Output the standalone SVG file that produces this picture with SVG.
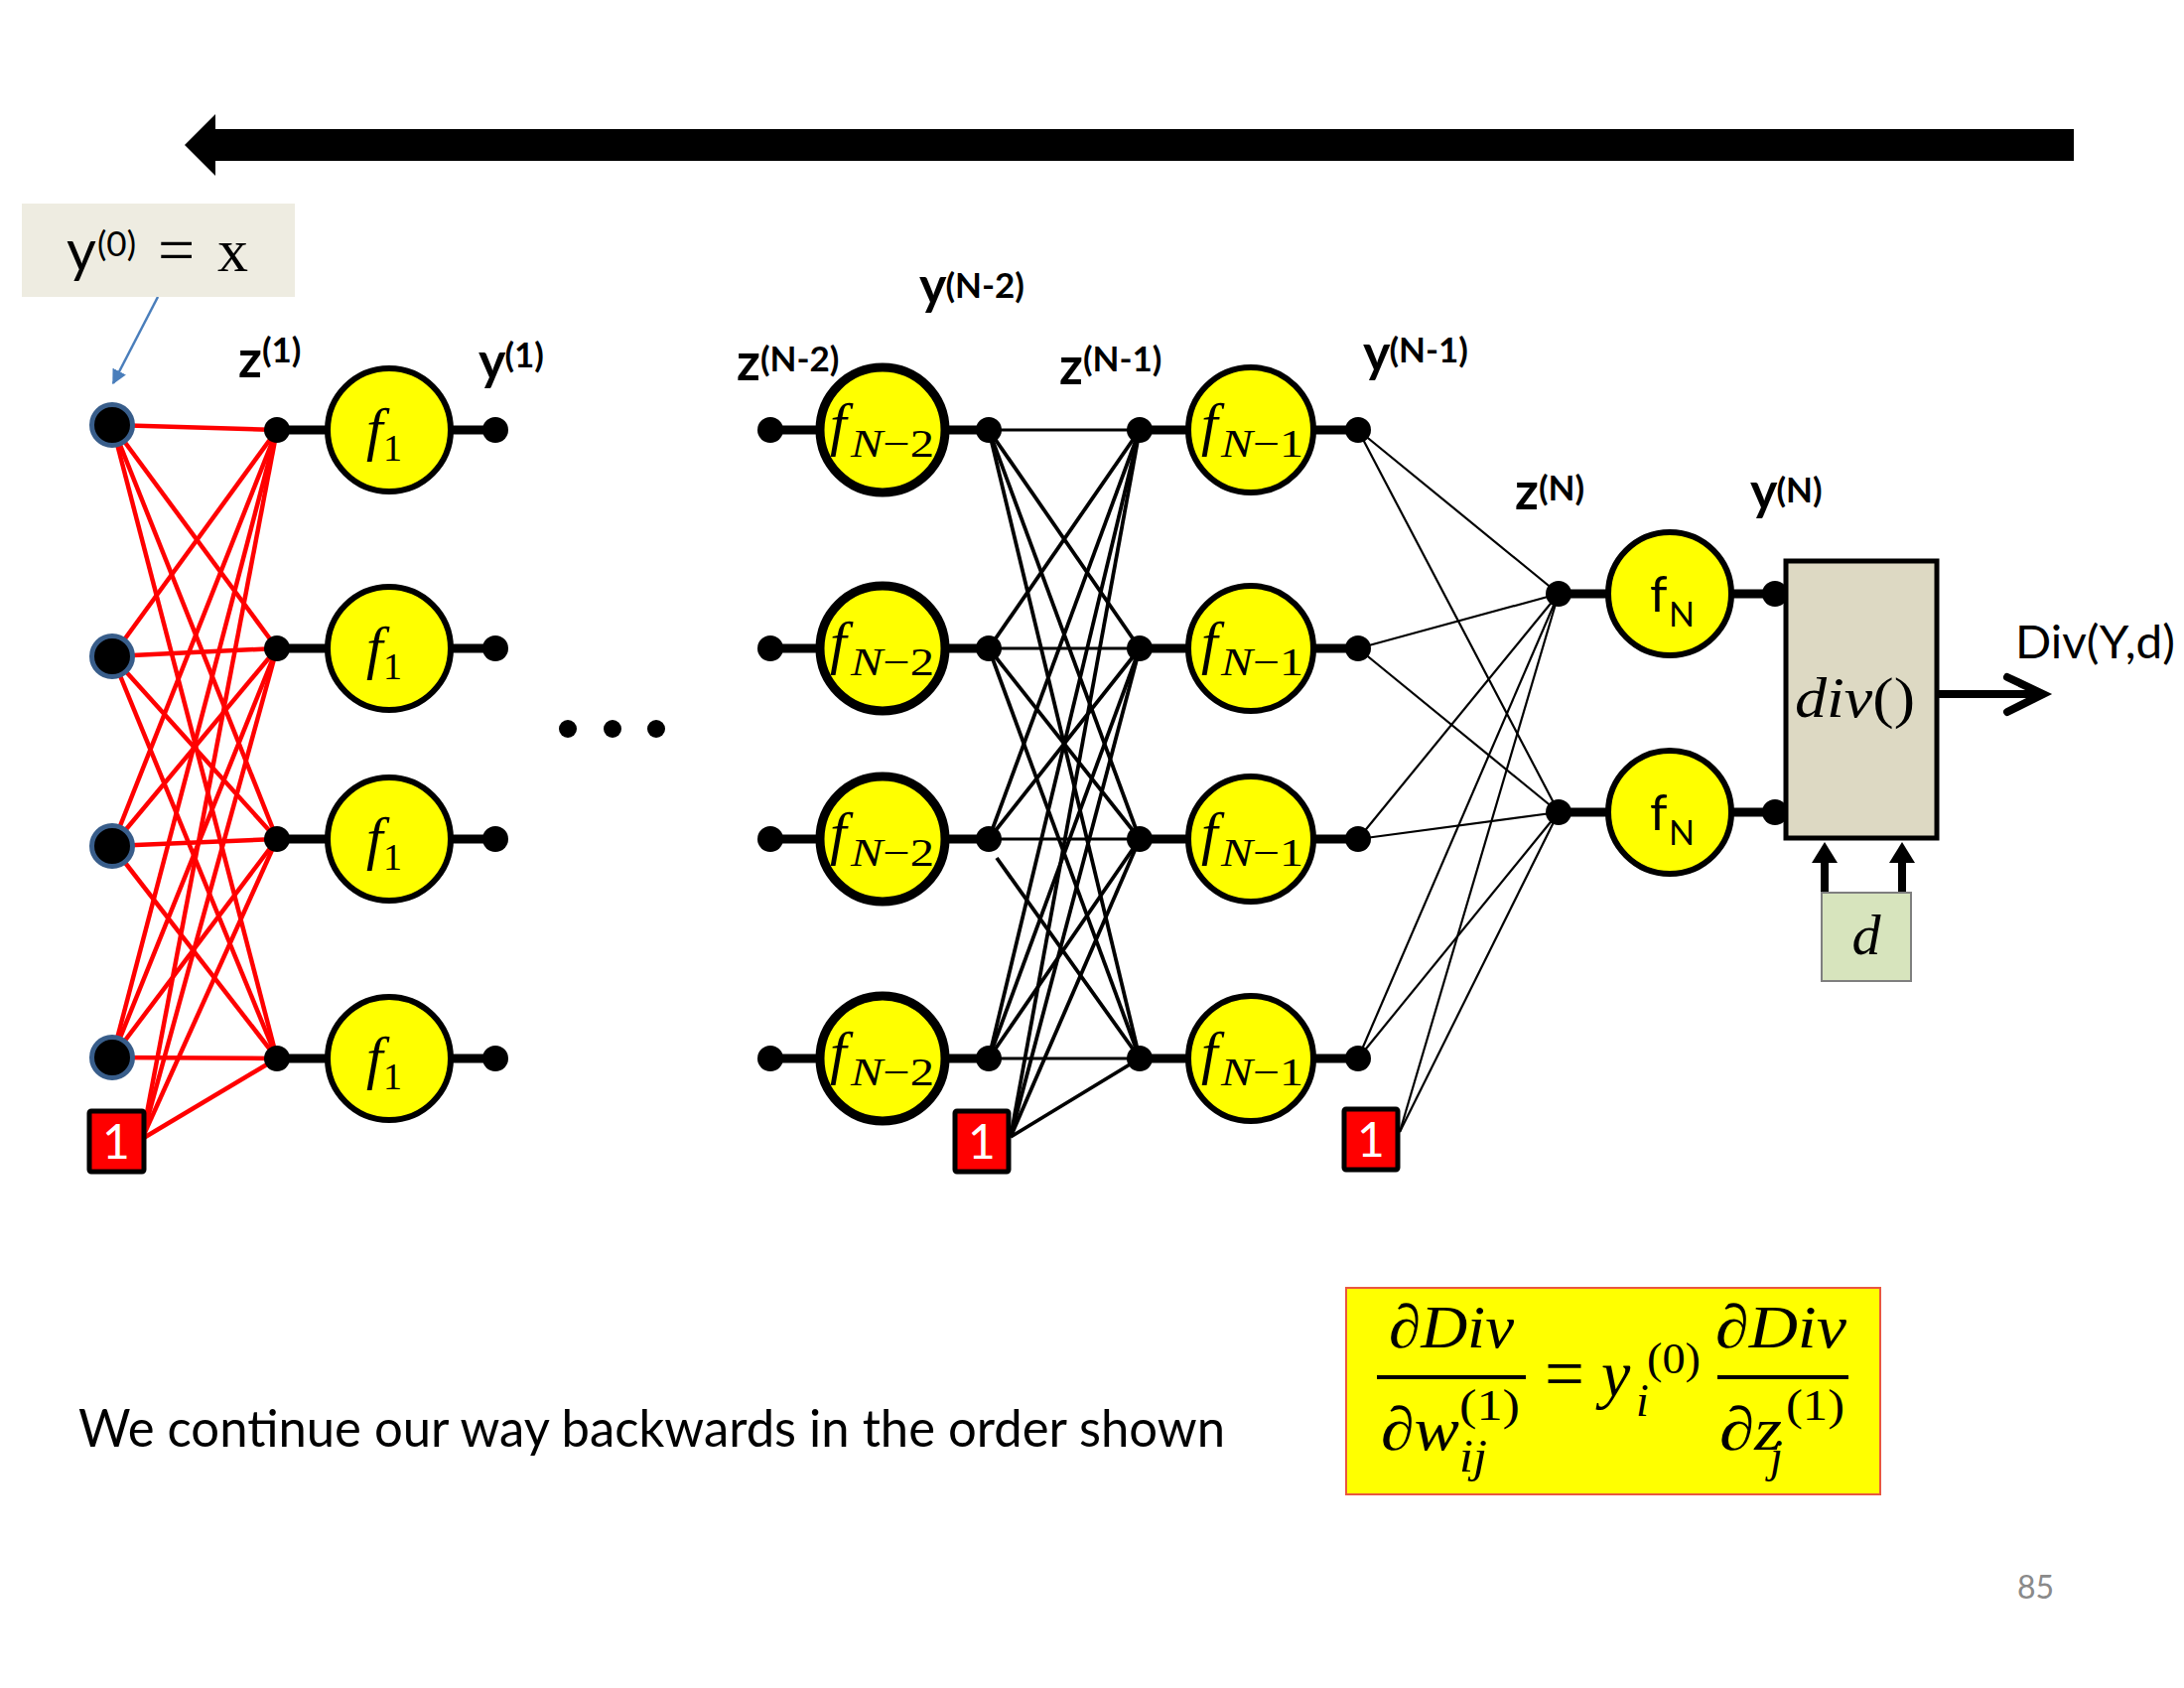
<svg xmlns="http://www.w3.org/2000/svg" width="2200" height="1700" viewBox="0 0 2200 1700">
<defs>
<style>
.sans{font-family:Lato,"Liberation Sans",sans-serif}
.lbl{font-family:Lato,"Liberation Sans",sans-serif;font-weight:bold;font-size:52px;fill:#000}
.sup{font-size:35px}
.math{font-family:"Liberation Serif","Times New Roman",serif;font-style:italic;fill:#000}
.mathr{font-family:"Liberation Serif","Times New Roman",serif;fill:#000}
.red{stroke:#FF0000;stroke-width:4.5;fill:none}
.blk{stroke:#000;stroke-width:3.8;fill:none}
.thin{stroke:#000;stroke-width:2.2;fill:none}
.bar{stroke:#000;stroke-width:9}
.dot{fill:#000}
.inp{fill:#000;stroke:#385D8A;stroke-width:5}
.fcirc{fill:#FFFF00;stroke:#000;stroke-width:6}
.fcirc2{fill:#FFFF00;stroke:#000;stroke-width:9}
.bias{fill:#FF0000;stroke:#000;stroke-width:5}
.biast{font-family:Lato,"Liberation Sans",sans-serif;font-size:48px;fill:#fff;text-anchor:middle}
</style>
<marker id="bluehead" viewBox="0 0 10 10" refX="9" refY="5" markerWidth="6" markerHeight="6" orient="auto" markerUnits="strokeWidth">
<path d="M0,0 L10,5 L0,10 z" fill="#4A7EBB"/>
</marker>
</defs>
<rect width="2200" height="1700" fill="#fff"/>

<g id="direction-arrow">
<polygon points="2089,130 217,130 217,115 186,146 217,177 217,162 2089,162" fill="#000"/>
</g>

<g id="connectors">
<line class="red" x1="113" y1="428" x2="279" y2="433"/>
<line class="red" x1="113" y1="428" x2="279" y2="653"/>
<line class="red" x1="113" y1="428" x2="279" y2="845"/>
<line class="red" x1="113" y1="428" x2="279" y2="1066"/>
<line class="red" x1="113" y1="661" x2="279" y2="433"/>
<line class="red" x1="113" y1="661" x2="279" y2="653"/>
<line class="red" x1="113" y1="661" x2="279" y2="845"/>
<line class="red" x1="113" y1="661" x2="279" y2="1066"/>
<line class="red" x1="113" y1="852" x2="279" y2="433"/>
<line class="red" x1="113" y1="852" x2="279" y2="653"/>
<line class="red" x1="113" y1="852" x2="279" y2="845"/>
<line class="red" x1="113" y1="852" x2="279" y2="1066"/>
<line class="red" x1="113" y1="1065" x2="279" y2="433"/>
<line class="red" x1="113" y1="1065" x2="279" y2="653"/>
<line class="red" x1="113" y1="1065" x2="279" y2="845"/>
<line class="red" x1="113" y1="1065" x2="279" y2="1066"/>
<line class="red" x1="143" y1="1147" x2="279" y2="433"/>
<line class="red" x1="143" y1="1147" x2="279" y2="653"/>
<line class="red" x1="143" y1="1147" x2="279" y2="845"/>
<line class="red" x1="143" y1="1147" x2="279" y2="1066"/>
<line class="blk" x1="996" y1="433" x2="1148" y2="433" style="stroke-width:3"/>
<line class="blk" x1="996" y1="433" x2="1148" y2="653"/>
<line class="blk" x1="996" y1="433" x2="1148" y2="845"/>
<line class="blk" x1="996" y1="433" x2="1148" y2="1066"/>
<line class="blk" x1="996" y1="653" x2="1148" y2="433"/>
<line class="blk" x1="996" y1="653" x2="1148" y2="653" style="stroke-width:3"/>
<line class="blk" x1="996" y1="653" x2="1148" y2="845"/>
<line class="blk" x1="996" y1="653" x2="1148" y2="1066"/>
<line class="blk" x1="996" y1="845" x2="1148" y2="433"/>
<line class="blk" x1="996" y1="845" x2="1148" y2="653"/>
<line class="blk" x1="996" y1="845" x2="1148" y2="845" style="stroke-width:3"/>
<line class="blk" x1="1004" y1="864" x2="1148" y2="1066"/>
<line class="blk" x1="996" y1="1066" x2="1148" y2="433"/>
<line class="blk" x1="996" y1="1066" x2="1148" y2="653"/>
<line class="blk" x1="996" y1="1066" x2="1148" y2="845"/>
<line class="blk" x1="996" y1="1066" x2="1148" y2="1066" style="stroke-width:3"/>
<line class="blk" x1="1018" y1="1145" x2="1148" y2="433"/>
<line class="blk" x1="1018" y1="1145" x2="1148" y2="653"/>
<line class="blk" x1="1018" y1="1145" x2="1148" y2="845"/>
<line class="blk" x1="1018" y1="1145" x2="1148" y2="1066"/>
<line class="thin" x1="1368" y1="433" x2="1570" y2="598"/>
<line class="thin" x1="1368" y1="433" x2="1570" y2="818"/>
<line class="thin" x1="1368" y1="653" x2="1570" y2="598"/>
<line class="thin" x1="1368" y1="653" x2="1570" y2="818"/>
<line class="thin" x1="1368" y1="845" x2="1570" y2="598"/>
<line class="thin" x1="1368" y1="845" x2="1570" y2="818"/>
<line class="thin" x1="1368" y1="1066" x2="1570" y2="598"/>
<line class="thin" x1="1368" y1="1066" x2="1570" y2="818"/>
<line class="thin" x1="1410" y1="1140" x2="1570" y2="598"/>
<line class="thin" x1="1410" y1="1140" x2="1570" y2="818"/>
<line class="bar" x1="279" y1="433" x2="499" y2="433"/>
<line class="bar" x1="279" y1="653" x2="499" y2="653"/>
<line class="bar" x1="279" y1="845" x2="499" y2="845"/>
<line class="bar" x1="279" y1="1066" x2="499" y2="1066"/>
<line class="bar" x1="776" y1="433" x2="996" y2="433"/>
<line class="bar" x1="776" y1="653" x2="996" y2="653"/>
<line class="bar" x1="776" y1="845" x2="996" y2="845"/>
<line class="bar" x1="776" y1="1066" x2="996" y2="1066"/>
<line class="bar" x1="1148" y1="433" x2="1368" y2="433"/>
<line class="bar" x1="1148" y1="653" x2="1368" y2="653"/>
<line class="bar" x1="1148" y1="845" x2="1368" y2="845"/>
<line class="bar" x1="1148" y1="1066" x2="1368" y2="1066"/>
<line class="bar" x1="1570" y1="598" x2="1790" y2="598"/>
<line class="bar" x1="1570" y1="818" x2="1790" y2="818"/>
<line x1="159" y1="299" x2="114" y2="386" stroke="#4A7EBB" stroke-width="2.5" marker-end="url(#bluehead)"/>
<line x1="1953" y1="699" x2="2054" y2="699" stroke="#000" stroke-width="8"/>
<polyline points="2022,682 2058,699 2022,717" fill="none" stroke="#000" stroke-width="8" stroke-linecap="round"/>
<line x1="1838" y1="899" x2="1838" y2="864" stroke="#000" stroke-width="8"/>
<polygon points="1838,848 1851,869 1825,869" fill="#000"/>
<line x1="1916" y1="899" x2="1916" y2="864" stroke="#000" stroke-width="8"/>
<polygon points="1916,848 1929,869 1903,869" fill="#000"/>
</g>

<g id="label-y0">
<rect x="22" y="205" width="275" height="94" fill="#EEECE1"/>
<text x="67" y="273" class="sans" font-size="58">y</text>
<text x="98" y="258" class="sans" font-size="35">(0)</text>
<text x="159" y="274" class="mathr" font-size="66">=</text>
<text x="219" y="273" class="mathr" font-size="62">x</text>
</g>

<g id="inputs">
<circle class="inp" cx="113" cy="428" r="20.5"/>
<circle class="inp" cx="113" cy="661" r="20.5"/>
<circle class="inp" cx="113" cy="852" r="20.5"/>
<circle class="inp" cx="113" cy="1065" r="20.5"/>
</g>
<g id="bias1">
<rect class="bias" x="90" y="1119" width="55" height="61" rx="2"/>
<text class="biast" x="117" y="1167">1</text>
</g>

<g id="layer1">
<circle class="dot" cx="279" cy="433" r="13"/><circle class="dot" cx="279" cy="653" r="13"/><circle class="dot" cx="279" cy="845" r="13"/><circle class="dot" cx="279" cy="1066" r="13"/>
<circle class="dot" cx="499" cy="433" r="13"/><circle class="dot" cx="499" cy="653" r="13"/><circle class="dot" cx="499" cy="845" r="13"/><circle class="dot" cx="499" cy="1066" r="13"/>
<g id="f1-1"><circle class="fcirc" cx="392" cy="433" r="62"/><text class="math" x="369" y="452" font-size="60">f</text><text class="mathr" x="386" y="464" font-size="38">1</text></g>
<g id="f1-2"><circle class="fcirc" cx="392" cy="653" r="62"/><text class="math" x="369" y="672" font-size="60">f</text><text class="mathr" x="386" y="684" font-size="38">1</text></g>
<g id="f1-3"><circle class="fcirc" cx="392" cy="845" r="62"/><text class="math" x="369" y="864" font-size="60">f</text><text class="mathr" x="386" y="876" font-size="38">1</text></g>
<g id="f1-4"><circle class="fcirc" cx="392" cy="1066" r="62"/><text class="math" x="369" y="1085" font-size="60">f</text><text class="mathr" x="386" y="1097" font-size="38">1</text></g>
</g>

<g id="ellipsis">
<circle cx="572" cy="734" r="9"/><circle cx="617" cy="734" r="9"/><circle cx="661" cy="734" r="9"/>
</g>

<g id="layerN-2">
<circle class="dot" cx="776" cy="433" r="13"/><circle class="dot" cx="776" cy="653" r="13"/><circle class="dot" cx="776" cy="845" r="13"/><circle class="dot" cx="776" cy="1066" r="13"/>
<circle class="dot" cx="996" cy="433" r="13"/><circle class="dot" cx="996" cy="653" r="13"/><circle class="dot" cx="996" cy="845" r="13"/><circle class="dot" cx="996" cy="1066" r="13"/>
<g id="fN2-1"><circle class="fcirc2" cx="889" cy="433" r="63"/><text class="math" x="836" y="447" font-size="60">f</text><text class="mathr" x="857" y="460" font-size="40" textLength="84" lengthAdjust="spacingAndGlyphs"><tspan font-style="italic">N</tspan>−2</text></g>
<g id="fN2-2"><circle class="fcirc2" cx="889" cy="653" r="63"/><text class="math" x="836" y="667" font-size="60">f</text><text class="mathr" x="857" y="680" font-size="40" textLength="84" lengthAdjust="spacingAndGlyphs"><tspan font-style="italic">N</tspan>−2</text></g>
<g id="fN2-3"><circle class="fcirc2" cx="889" cy="845" r="63"/><text class="math" x="836" y="859" font-size="60">f</text><text class="mathr" x="857" y="872" font-size="40" textLength="84" lengthAdjust="spacingAndGlyphs"><tspan font-style="italic">N</tspan>−2</text></g>
<g id="fN2-4"><circle class="fcirc2" cx="889" cy="1066" r="63"/><text class="math" x="836" y="1080" font-size="60">f</text><text class="mathr" x="857" y="1093" font-size="40" textLength="84" lengthAdjust="spacingAndGlyphs"><tspan font-style="italic">N</tspan>−2</text></g>
</g>
<g id="bias2">
<rect class="bias" x="962" y="1119" width="54" height="61" rx="2"/>
<text class="biast" x="989" y="1167">1</text>
</g>

<g id="layerN-1">
<circle class="dot" cx="1148" cy="433" r="13"/><circle class="dot" cx="1148" cy="653" r="13"/><circle class="dot" cx="1148" cy="845" r="13"/><circle class="dot" cx="1148" cy="1066" r="13"/>
<circle class="dot" cx="1368" cy="433" r="13"/><circle class="dot" cx="1368" cy="653" r="13"/><circle class="dot" cx="1368" cy="845" r="13"/><circle class="dot" cx="1368" cy="1066" r="13"/>
<g id="fN1-1"><circle class="fcirc" cx="1260" cy="433" r="63"/><text class="math" x="1210" y="447" font-size="60">f</text><text class="mathr" x="1230" y="460" font-size="40" textLength="83" lengthAdjust="spacingAndGlyphs"><tspan font-style="italic">N</tspan>−1</text></g>
<g id="fN1-2"><circle class="fcirc" cx="1260" cy="653" r="63"/><text class="math" x="1210" y="667" font-size="60">f</text><text class="mathr" x="1230" y="680" font-size="40" textLength="83" lengthAdjust="spacingAndGlyphs"><tspan font-style="italic">N</tspan>−1</text></g>
<g id="fN1-3"><circle class="fcirc" cx="1260" cy="845" r="63"/><text class="math" x="1210" y="859" font-size="60">f</text><text class="mathr" x="1230" y="872" font-size="40" textLength="83" lengthAdjust="spacingAndGlyphs"><tspan font-style="italic">N</tspan>−1</text></g>
<g id="fN1-4"><circle class="fcirc" cx="1260" cy="1066" r="63"/><text class="math" x="1210" y="1080" font-size="60">f</text><text class="mathr" x="1230" y="1093" font-size="40" textLength="83" lengthAdjust="spacingAndGlyphs"><tspan font-style="italic">N</tspan>−1</text></g>
</g>
<g id="bias3">
<rect class="bias" x="1354" y="1117" width="54" height="61" rx="2"/>
<text class="biast" x="1381" y="1165">1</text>
</g>

<g id="layerN">
<circle class="dot" cx="1570" cy="598" r="13"/><circle class="dot" cx="1570" cy="818" r="13"/>
<circle class="dot" cx="1788" cy="598" r="13"/><circle class="dot" cx="1788" cy="818" r="13"/>
<g id="fN-1"><circle class="fcirc" cx="1682" cy="598" r="62"/><text class="sans" x="1662" y="616" font-size="50">f</text><text class="sans" x="1681" y="631" font-size="34">N</text></g>
<g id="fN-2"><circle class="fcirc" cx="1682" cy="818" r="62"/><text class="sans" x="1662" y="836" font-size="50">f</text><text class="sans" x="1681" y="851" font-size="34">N</text></g>
</g>

<g id="div-box">
<rect x="1799" y="565" width="152" height="279" fill="#DDD9C3" stroke="#000" stroke-width="5"/>
<text class="math" x="1808" y="722" font-size="58" textLength="121" lengthAdjust="spacingAndGlyphs">div<tspan font-style="normal">()</tspan></text>
</g>
<g id="d-box">
<rect x="1835" y="899" width="90" height="89" fill="#D7E4BD" stroke="#7F7F7F" stroke-width="2"/>
<text class="math" x="1880" y="961" font-size="58" text-anchor="middle">d</text>
</g>
<g id="div-output-label">
<text class="sans" x="2030" y="663" font-size="46" textLength="161" lengthAdjust="spacingAndGlyphs">Div(Y,d)</text>
</g>

<g id="layer-labels">
<text class="lbl" x="240" y="380">z<tspan class="sup" dy="-15">(1)</tspan></text>
<text class="lbl" x="482" y="382">y<tspan class="sup" dx="-1" dy="-12">(1)</tspan></text>
<text class="lbl" x="742" y="383">z<tspan class="sup" dy="-9">(N-2)</tspan></text>
<text class="lbl" x="926" y="306">y<tspan class="sup" dx="-1" dy="-6">(N-2)</tspan></text>
<text class="lbl" x="1067" y="387">z<tspan class="sup" dy="-13">(N-1)</tspan></text>
<text class="lbl" x="1373" y="374">y<tspan class="sup" dx="-1" dy="-9">(N-1)</tspan></text>
<text class="lbl" x="1526" y="513">z<tspan class="sup" dy="-9">(N)</tspan></text>
<text class="lbl" x="1763" y="513">y<tspan class="sup" dx="-1" dy="-7">(N)</tspan></text>
</g>

<g id="caption">
<text class="sans" x="79" y="1457" font-size="52" textLength="1155" lengthAdjust="spacingAndGlyphs">We continue our way backwards in the order shown</text>
</g>

<g id="equation">
<rect x="1356" y="1297" width="538" height="208" fill="#FFFF00" stroke="#E9573F" stroke-width="2"/>
<text class="math" x="1399" y="1357" font-size="62" textLength="126" lengthAdjust="spacingAndGlyphs">∂Div</text>
<line x1="1387" y1="1387" x2="1537" y2="1387" stroke="#000" stroke-width="4"/>
<text class="math" x="1391" y="1460" font-size="62" textLength="79" lengthAdjust="spacingAndGlyphs">∂w</text>
<text class="mathr" x="1470" y="1430" font-size="44" textLength="61" lengthAdjust="spacingAndGlyphs">(1)</text>
<text class="math" x="1470" y="1482" font-size="46" textLength="28" lengthAdjust="spacingAndGlyphs">ij</text>
<text class="mathr" x="1556" y="1409" font-size="76" textLength="40" lengthAdjust="spacingAndGlyphs">=</text>
<text class="math" x="1613" y="1406" font-size="66">y</text>
<text class="mathr" x="1659" y="1383" font-size="44" textLength="54" lengthAdjust="spacingAndGlyphs">(0)</text>
<text class="math" x="1648" y="1426" font-size="46">i</text>
<text class="math" x="1728" y="1357" font-size="62" textLength="132" lengthAdjust="spacingAndGlyphs">∂Div</text>
<line x1="1730" y1="1387" x2="1862" y2="1387" stroke="#000" stroke-width="4"/>
<text class="math" x="1732" y="1460" font-size="62" textLength="63" lengthAdjust="spacingAndGlyphs">∂z</text>
<text class="mathr" x="1799" y="1430" font-size="44" textLength="59" lengthAdjust="spacingAndGlyphs">(1)</text>
<text class="math" x="1783" y="1482" font-size="46">j</text>
</g>

<g id="page-number">
<text class="sans" x="2032" y="1610" font-size="32" fill="#8A8A8A">85</text>
</g>
</svg>
